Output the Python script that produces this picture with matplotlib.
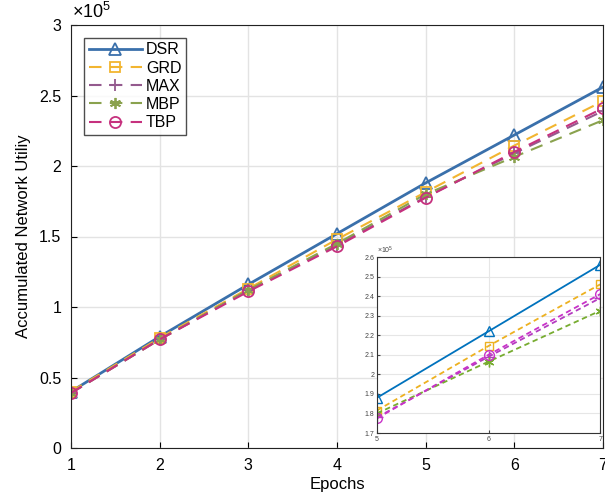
import numpy as np
import matplotlib
matplotlib.use("Agg")
import matplotlib.pyplot as plt

plt.rcParams['font.family'] = ['Liberation Sans', 'DejaVu Sans']
plt.rcParams['mathtext.fontset'] = 'custom'
plt.rcParams['mathtext.rm'] = 'Liberation Sans'

# data (units of 1e5)
epochs = [1, 2, 3, 4, 5, 6, 7]
dsr = [0.40, 0.79, 1.16, 1.52, 1.88, 2.22, 2.56]
grd = [0.40, 0.78, 1.13, 1.48, 1.815, 2.145, 2.46]
mx = [0.39, 0.77, 1.12, 1.44, 1.78, 2.09, 2.39]
mbp = [0.39, 0.77, 1.12, 1.45, 1.80, 2.065, 2.325]
tbp = [0.39, 0.77, 1.11, 1.43, 1.775, 2.10, 2.41]
names = ["DSR", "GRD", "MAX", "MBP", "TBP"]
series = [dsr, grd, mx, mbp, tbp]

main_colors = ["#3a70ab", "#f2b530", "#945a8e", "#8aa24e", "#c6317e"]
inset_colors = ["#0072bd", "#edb120", "#b43cc0", "#77ac30", "#c832c8"]
markers = ["^", "s", "+", (6, 2, 0), "o"]
msizes = [8, 7, 9, 8, 8]
styles = ["-", "--", "--", "--", "--"]

fig = plt.figure(figsize=(6.05, 5), dpi=100)
ax = fig.add_axes([0.1174, 0.104, 0.8793, 0.846])

for i in range(5):
    ax.plot(epochs, series[i], linestyle=styles[i], color=main_colors[i],
            marker=markers[i], markersize=msizes[i], fillstyle='none',
            markeredgewidth=1.3, linewidth=2 if i == 0 else 1.5,
            dashes=(6, 4) if i > 0 else (None, None), label=names[i])

ax.set_xlim(1, 7)
ax.set_ylim(0, 3)
ax.set_xticks(epochs)
ax.set_yticks([0, 0.5, 1, 1.5, 2, 2.5, 3])
ax.set_yticklabels(["0", "0.5", "1", "1.5", "2", "2.5", "3"])
ax.tick_params(direction='in', labelsize=11.5, length=4, pad=7)
ax.grid(True, color='#e3e3e3', linewidth=1)
for s in ax.spines.values():
    s.set_color('#222222')
ax.set_xlabel("Epochs", fontsize=12, labelpad=3)
ax.set_ylabel("Accumulated Network Utiliy", fontsize=12, labelpad=6)
ax.text(0.002, 1.006, r"$\times10^{5}$", transform=ax.transAxes, fontsize=13,
        ha='left', va='bottom')

leg = ax.legend(loc='upper left', bbox_to_anchor=(0.025, 0.97), fontsize=11.5,
                frameon=True, fancybox=False, edgecolor='#222222',
                handlelength=3.3, borderpad=0.3, labelspacing=0.2,
                handletextpad=0.25, borderaxespad=0)
leg.get_frame().set_linewidth(1.0)

# inset
ins = fig.add_axes([0.623, 0.134, 0.369, 0.352])
for i in range(5):
    ins.plot(epochs[4:], series[i][4:], linestyle=styles[i], color=inset_colors[i],
             marker=markers[i], markersize=msizes[i] - 1, fillstyle='none',
             markeredgewidth=1.0, linewidth=1.3,
             dashes=(3, 2) if i > 0 else (None, None))
ins.set_xlim(5, 7)
ins.set_ylim(1.7, 2.6)
ins.set_xticks([5, 6, 7])
ins.set_yticks([1.7, 1.8, 1.9, 2.0, 2.1, 2.2, 2.3, 2.4, 2.5, 2.6])
ins.set_yticklabels(["1.7", "1.8", "1.9", "2", "2.1", "2.2", "2.3", "2.4", "2.5", "2.6"])
ins.tick_params(direction='in', labelsize=5, length=2, colors='#444444', pad=2)
ins.grid(True, color='#e6e6e6', linewidth=0.8)
for s in ins.spines.values():
    s.set_color('#333333')
    s.set_linewidth(0.8)
ins.text(0.0, 1.005, r"$\times10^{5}$", transform=ins.transAxes, fontsize=5,
         ha='left', va='bottom', color='#444444')

fig.savefig("out.png", dpi=100)
